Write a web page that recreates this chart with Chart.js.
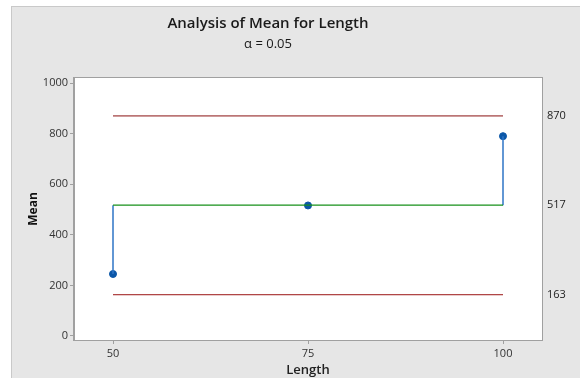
<!DOCTYPE html>
<html>
<head>
<meta charset="utf-8">
<script src="https://cdn.jsdelivr.net/npm/chart.js@4.4.1/dist/chart.umd.min.js"></script>
<style>
  html, body { margin: 0; padding: 0; background: #fff; }
  #frame {
    position: absolute; left: 11px; top: 6px; width: 569px; height: 372px;
    box-sizing: border-box; background: #e6e6e6;
    border-left: 1px solid #c9c9c9; border-top: 1px solid #c9c9c9;
  }
  #chart { display: block; }
</style>
</head>
<body>
<div id="frame"><canvas id="chart" width="568" height="371"></canvas></div>
<script>
// Analysis of Means for Length, alpha = 0.05
const levels = [50, 75, 100];
const means = [245, 516, 790];
const centerLine = 517;
const upperLimit = 870;
const lowerLimit = 163;
const xTicks = [50, 75, 100];
const yTicks = [0, 200, 400, 600, 800, 1000];
const limitTicks = [lowerLimit, centerLine, upperLimit];

const font = "'Open Sans', 'Noto Sans', sans-serif";
const first = levels[0];
const last = levels[levels.length - 1];

// stems from the centre line to every mean, broken with nulls
const stems = [];
levels.forEach((lv, i) => {
  stems.push({ x: lv, y: centerLine }, { x: lv, y: means[i] }, { x: lv, y: null });
});

const frameBox = {
  id: "frameBox",
  afterDraw(chart) {
    const { ctx, chartArea: a } = chart;
    ctx.save();
    ctx.strokeStyle = "#a0a0a0";
    ctx.lineWidth = 1;
    ctx.strokeRect(a.left - 0.5, a.top - 0.5, a.right - a.left + 1, a.bottom - a.top + 1);
    ctx.restore();
  }
};

const plotBg = {
  id: "plotBg",
  beforeDraw(chart) {
    const { ctx, chartArea: a } = chart;
    ctx.save();
    ctx.fillStyle = "#ffffff";
    ctx.fillRect(a.left, a.top, a.right - a.left, a.bottom - a.top);
    ctx.restore();
  }
};

const titles = {
  id: "titles",
  afterDraw(chart) {
    const ctx = chart.ctx;
    ctx.save();
    ctx.fillStyle = "#1a1a1a";
    ctx.textAlign = "center";
    ctx.textBaseline = "middle";
    ctx.font = `600 15px ${font}`;
    ctx.fillText("Analysis of Mean for Length", 256, 17);
    ctx.font = `13px ${font}`;
    ctx.fillText("α = 0.05", 256, 37);
    ctx.restore();
  }
};

new Chart(document.getElementById("chart"), {
  type: "line",
  data: {
    datasets: [
      {
        data: [{ x: first, y: upperLimit }, { x: last, y: upperLimit }],
        borderColor: "#8a1111", borderWidth: 1, pointRadius: 0, yAxisID: "y"
      },
      {
        data: [{ x: first, y: lowerLimit }, { x: last, y: lowerLimit }],
        borderColor: "#9a1414", borderWidth: 1, pointRadius: 0, yAxisID: "y"
      },
      {
        data: [{ x: first, y: centerLine }, { x: last, y: centerLine }],
        borderColor: "#16901a", borderWidth: 1.2, pointRadius: 0, yAxisID: "y"
      },
      {
        data: stems, spanGaps: false,
        borderColor: "#2f75c6", borderWidth: 1.5, pointRadius: 0, yAxisID: "y"
      },
      {
        data: levels.map((lv, i) => ({ x: lv, y: means[i] })),
        showLine: false, pointRadius: 3.5, pointBackgroundColor: "#0b57a8",
        pointBorderColor: "#0b57a8", yAxisID: "y"
      }
    ]
  },
  options: {
    responsive: false,
    animation: false,
    layout: { padding: { top: 71, left: 0, right: 0, bottom: 0 } },
    plugins: { legend: { display: false }, tooltip: { enabled: false } },
    scales: {
      x: {
        type: "linear", min: 45, max: 105,
        afterBuildTicks: s => { s.ticks = xTicks.map(v => ({ value: v })); },
        afterFit: s => { s.height = 38; },
        grid: { drawOnChartArea: false, tickLength: 4, color: "#a0a0a0" },
        border: { color: "#a0a0a0" },
        ticks: { color: "#333", font: { family: font, size: 11 }, padding: 3,
                 callback: v => String(v) },
        title: { display: true, text: "Length", color: "#222", padding: { top: 0, bottom: 0 },
                 font: { family: font, size: 13, weight: "600" } }
      },
      y: {
        position: "left", min: -16, max: 1020,
        afterBuildTicks: s => { s.ticks = yTicks.map(v => ({ value: v })); },
        afterFit: s => { s.width = 62; },
        grid: { drawOnChartArea: false, tickLength: 4, color: "#a0a0a0" },
        border: { color: "#a0a0a0" },
        ticks: { color: "#333", font: { family: font, size: 11 }, padding: 2,
                 callback: v => String(v) },
        title: { display: true, text: "Mean", color: "#111", padding: { top: 14 },
                 font: { family: font, size: 12, weight: "bold" } }
      },
      y2: {
        position: "right", min: -16, max: 1020,
        afterBuildTicks: s => { s.ticks = limitTicks.map(v => ({ value: v })); },
        afterFit: s => { s.width = 38; },
        grid: { display: false, drawTicks: false },
        border: { display: false },
        ticks: { color: "#222", font: { family: font, size: 11 }, padding: 5,
                 callback: v => String(v) }
      }
    }
  },
  plugins: [plotBg, frameBox, titles]
});
</script>
</body>
</html>
